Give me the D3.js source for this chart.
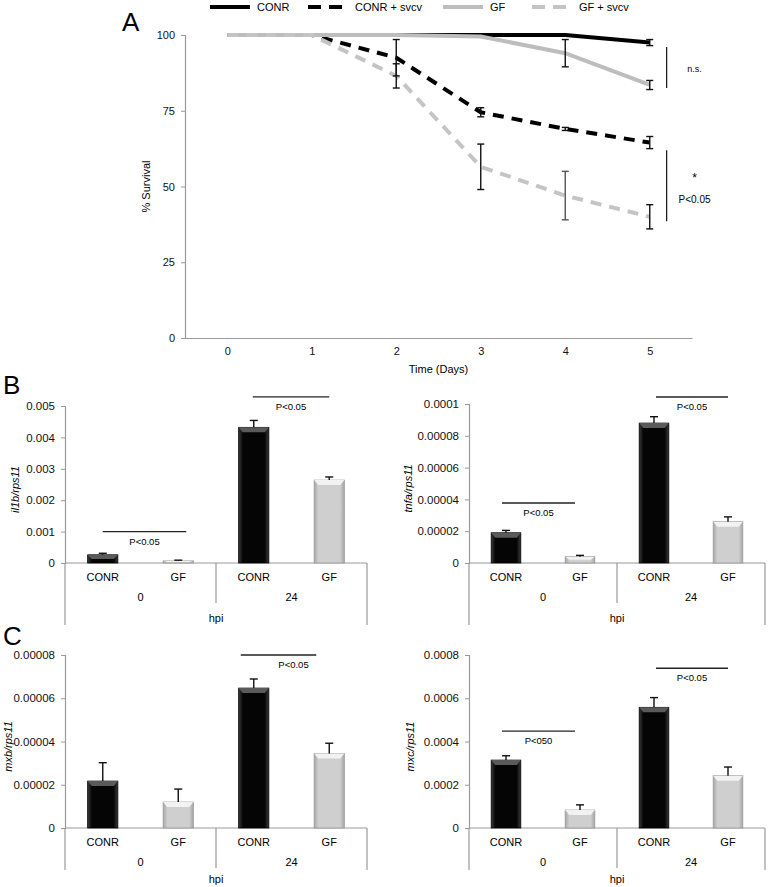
<!DOCTYPE html>
<html>
<head>
<meta charset="utf-8">
<script src="https://cdn.jsdelivr.net/npm/d3@7"></script>
<style>
  body { margin: 0; background: #fff; }
  svg { display: block; font-family: "Liberation Sans", Arial, Helvetica, sans-serif; }
</style>
</head>
<body>
<div id="chart"></div>
<script>
// ---- Panel A data: survival curves
const days = [0, 1, 2, 3, 4, 5];
const conr      = [100, 100, 100, 100, 100, 97.5];
const conrErr   = [0, 0, 0, 0, 0, 1];
const conrSvcv    = [100, 100, 92.5, 74.5, 69, 64.5];
const conrSvcvErr = [0, 0, 6, 1.5, 0.5, 2];
const gf      = [100, 100, 100, 99.5, 94, 83.5];
const gfErr   = [0, 0, 0, 0, 4.5, 1.5];
const gfSvcv    = [100, 100, 86.5, 56.5, 47, 40];
const gfSvcvErr = [0, 0, 4, 7.5, 8, 4];
const survivalTicks = [0, 25, 50, 75, 100];

// ---- Panels B / C data: qPCR bars
const hpi = ["0", "24"];
const groups = ["CONR", "GF"];
const il1b    = [0.00026, 0.00007, 0.00432, 0.00264];
const il1bErr = [0.00005, 0.00002, 0.00022, 0.0001];
const il1bTicks = [0, 0.001, 0.002, 0.003, 0.004, 0.005];
const tnfa    = [0.000019, 0.000004, 0.000088, 0.000026];
const tnfaErr = [0.0000015, 0.0000008, 0.000004, 0.000003];
const tnfaTicks = [0, 0.00002, 0.00004, 0.00006, 0.00008, 0.0001];
const mxb    = [0.0000217, 0.000012, 0.0000647, 0.0000345];
const mxbErr = [0.0000085, 0.000006, 0.0000042, 0.0000047];
const mxbTicks = [0, 0.00002, 0.00004, 0.00006, 0.00008];
const mxc    = [0.000314, 0.000083, 0.000558, 0.000242];
const mxcErr = [0.00002, 0.000024, 0.000045, 0.00004];
const mxcTicks = [0, 0.0002, 0.0004, 0.0006, 0.0008];

const width = 768, height = 887;
const axisGray = "#999";

const svg = d3.select("#chart").append("svg")
    .attr("width", width)
    .attr("height", height);

// gradients for the bevelled Excel-like bars
const defs = svg.append("defs");
function hGrad(id, edge, mid) {
  const g = defs.append("linearGradient").attr("id", id)
      .attr("x1", "0%").attr("x2", "100%").attr("y1", "0%").attr("y2", "0%");
  g.append("stop").attr("offset", "0%").attr("stop-color", edge);
  g.append("stop").attr("offset", "14%").attr("stop-color", mid);
  g.append("stop").attr("offset", "86%").attr("stop-color", mid);
  g.append("stop").attr("offset", "100%").attr("stop-color", edge);
}
hGrad("gBlack", "#3c3c3c", "#050505");
hGrad("gGray", "#a6a6a6", "#cfcfcf");

// ================= Panel A =================
const x = d3.scaleLinear().domain([-0.5, 5.5]).range([185, 692]);
const y = d3.scaleLinear().domain([0, 100]).range([338, 35]);

svg.append("text").attr("x", 122).attr("y", 31)
    .attr("font-size", 26).text("A");

const yAxisA = svg.append("g").attr("transform", "translate(185,0)")
    .call(d3.axisLeft(y).tickValues(survivalTicks).tickSize(4).tickPadding(6));
yAxisA.select(".domain").attr("stroke", axisGray).attr("stroke-width", 1.2);
yAxisA.selectAll(".tick line").attr("stroke", axisGray);
yAxisA.selectAll(".tick text").attr("font-size", 11).attr("fill", "#111");

const xAxisA = svg.append("g").attr("transform", "translate(0,338)")
    .call(d3.axisBottom(x).tickValues(days).tickFormat(d3.format("d")).tickSize(0).tickPadding(9));
xAxisA.select(".domain").attr("stroke", axisGray).attr("stroke-width", 1.2);
xAxisA.selectAll(".tick text").attr("font-size", 11).attr("fill", "#111");

svg.append("text").attr("x", x(2.5)).attr("y", 373)
    .attr("text-anchor", "middle").attr("font-size", 11).text("Time (Days)");
svg.append("text")
    .attr("transform", `translate(150,${y(50)}) rotate(-90)`)
    .attr("text-anchor", "middle").attr("font-size", 11).text("% Survival");

const series = [
  {name: "CONR", values: conr, err: conrErr, color: "#000", dash: null},
  {name: "CONR + svcv", values: conrSvcv, err: conrSvcvErr, color: "#000", dash: "11,8"},
  {name: "GF", values: gf, err: gfErr, color: "#bdbdbd", dash: null},
  {name: "GF + svcv", values: gfSvcv, err: gfSvcvErr, color: "#c4c4c4", dash: "11,8"}
];

const line = d3.line().x((d, i) => x(days[i])).y(d => y(d));

svg.append("g").selectAll("path")
  .data(series)
  .join("path")
    .attr("d", d => line(d.values))
    .attr("fill", "none")
    .attr("stroke", d => d.color)
    .attr("stroke-width", 4)
    .attr("stroke-dasharray", d => d.dash);

// error bars
const errs = [];
series.forEach(s => s.values.forEach((v, i) => {
  if (s.err[i] > 0) errs.push({day: days[i], v, e: s.err[i], gray: s.name === "GF + svcv" && days[i] === 4});
}));
const eg = svg.append("g").attr("stroke-width", 1.4);
errs.forEach(d => {
  const c = d.gray ? "#555" : "#111";
  const cx = x(d.day);
  eg.append("line").attr("x1", cx).attr("x2", cx)
      .attr("y1", y(d.v + d.e)).attr("y2", y(d.v - d.e)).attr("stroke", c);
  [d.v + d.e, d.v - d.e].forEach(t => eg.append("line")
      .attr("x1", cx - 3.5).attr("x2", cx + 3.5)
      .attr("y1", y(t)).attr("y2", y(t)).attr("stroke", c));
});

// significance brackets on panel A
const sigA = [
  {top: 96, bottom: 82.5, labels: [{t: "n.s.", dy: 0, size: 9}]},
  {top: 62, bottom: 38.5, labels: [{t: "*", dy: -8, size: 12}, {t: "P<0.05", dy: 13, size: 10}]}
];
sigA.forEach(s => {
  svg.append("line").attr("x1", x(5.2)).attr("x2", x(5.2))
      .attr("y1", y(s.top)).attr("y2", y(s.bottom))
      .attr("stroke", "#111").attr("stroke-width", 1.2);
  const mid = (y(s.top) + y(s.bottom)) / 2;
  s.labels.forEach(l => svg.append("text")
      .attr("x", x(5.53)).attr("y", mid + l.dy + 4)
      .attr("text-anchor", "middle").attr("font-size", l.size).text(l.t));
});

// legend
const legendX = [210, 308, 443, 532];
const leg = svg.append("g");
series.forEach((s, i) => {
  leg.append("line").attr("x1", legendX[i]).attr("x2", legendX[i] + 40)
      .attr("y1", 7).attr("y2", 7)
      .attr("stroke", s.color).attr("stroke-width", 4)
      .attr("stroke-dasharray", s.dash ? "13,8" : null);
  leg.append("text").attr("x", legendX[i] + 47).attr("y", 11)
      .attr("font-size", 11).text(s.name);
});

// ================= Panels B / C =================
function barChart({left, right, zero, top, values, err, ticks, label, titleX, outerLen, hpiDy, brackets}) {
  const cats = hpi.flatMap(h => groups.map(g => h + "|" + g));
  const xb = d3.scaleBand().domain(cats).range([left, right]).paddingInner(0.6).paddingOuter(0.3);
  const yb = d3.scaleLinear().domain([0, ticks[ticks.length - 1]]).range([zero, top]);
  const g = svg.append("g");

  const ax = g.append("g").attr("transform", `translate(${left},0)`)
      .call(d3.axisLeft(yb).tickValues(ticks).tickSize(4).tickPadding(6)
        .tickFormat(d => d === 0 ? "0" : String(d)));
  ax.select(".domain").attr("stroke", axisGray).attr("stroke-width", 1.2);
  ax.selectAll(".tick line").attr("stroke", axisGray);
  ax.selectAll(".tick text").attr("font-size", 11.5).attr("fill", "#111");

  // category axis with the two-level hpi grouping
  g.append("line").attr("x1", left).attr("x2", right).attr("y1", zero).attr("y2", zero)
      .attr("stroke", axisGray).attr("stroke-width", 1.2);
  const mid = (left + right) / 2;
  [[left, outerLen], [mid, 40], [right, outerLen]].forEach(([lx, len]) =>
    g.append("line").attr("x1", lx).attr("x2", lx).attr("y1", zero).attr("y2", zero + len)
      .attr("stroke", axisGray).attr("stroke-width", 1.2));

  g.selectAll(".cat").data(cats).join("text")
      .attr("x", d => xb(d) + xb.bandwidth() / 2).attr("y", zero + 18)
      .attr("text-anchor", "middle").attr("font-size", 11).text(d => d.split("|")[1]);
  hpi.forEach((h, i) => g.append("text")
      .attr("x", left + (right - left) * (i * 2 + 1) / 4).attr("y", zero + 38)
      .attr("text-anchor", "middle").attr("font-size", 11).text(h));
  g.append("text").attr("x", mid).attr("y", zero + hpiDy)
      .attr("text-anchor", "middle").attr("font-size", 11).text("hpi");

  // bars
  cats.forEach((c, i) => {
    const isCtl = c.endsWith("CONR");
    const bx = xb(c), bw = xb.bandwidth(), by = yb(values[i]);
    g.append("rect").attr("x", bx).attr("y", by).attr("width", bw).attr("height", zero - by)
        .attr("fill", isCtl ? "url(#gBlack)" : "url(#gGray)")
        .attr("stroke", isCtl ? "#000" : "#9a9a9a").attr("stroke-width", 0.8);
    const bev = Math.min(5, (zero - by) / 2);
    g.append("path")
        .attr("d", `M${bx},${by}L${bx + bw},${by}L${bx + bw - 4},${by + bev}L${bx + 4},${by + bev}Z`)
        .attr("fill", isCtl ? "#5a5a5a" : "#f2f2f2");
    // upward error whisker
    const ey = yb(values[i] + err[i]);
    g.append("line").attr("x1", bx + bw / 2).attr("x2", bx + bw / 2).attr("y1", by).attr("y2", ey)
        .attr("stroke", "#111").attr("stroke-width", 1.4);
    g.append("line").attr("x1", bx + bw / 2 - 4).attr("x2", bx + bw / 2 + 4).attr("y1", ey).attr("y2", ey)
        .attr("stroke", "#111").attr("stroke-width", 1.4);
  });

  // significance bars
  brackets.forEach(b => {
    const c0 = cats[b.from], c1 = cats[b.to];
    const x0 = xb(c0) + xb.bandwidth() / 2 + b.off0, x1 = xb(c1) + xb.bandwidth() / 2 + b.off1;
    const ly = yb(b.y);
    g.append("line").attr("x1", x0).attr("x2", x1).attr("y1", ly).attr("y2", ly)
        .attr("stroke", "#222").attr("stroke-width", 1.4);
    g.append("text").attr("x", (x0 + x1) / 2 + b.tdx).attr("y", ly + 13)
        .attr("text-anchor", "middle").attr("font-size", 9.5).text(b.text);
  });

  g.append("text")
      .attr("transform", `translate(${titleX},${(zero + top) / 2 + 5}) rotate(-90)`)
      .attr("text-anchor", "middle").attr("font-size", 11).attr("font-style", "italic").text(label);
}

svg.append("text").attr("x", 3).attr("y", 394).attr("font-size", 26).text("B");
svg.append("text").attr("x", 3).attr("y", 645).attr("font-size", 26).text("C");

barChart({left: 65, right: 367, zero: 563, top: 406, values: il1b, err: il1bErr, ticks: il1bTicks,
  label: "il1b/rps11", titleX: 19, outerLen: 62, hpiDy: 59,
  brackets: [{from: 0, to: 1, y: 0.001, off0: 0, off1: 8, tdx: 0, text: "P<0.05"},
             {from: 2, to: 3, y: 0.00529, off0: -1, off1: 0, tdx: 0, text: "P<0.05"}]});
barChart({left: 469, right: 765, zero: 563, top: 404, values: tnfa, err: tnfaErr, ticks: tnfaTicks,
  label: "tnfa/rps11", titleX: 412, outerLen: 62, hpiDy: 59,
  brackets: [{from: 0, to: 1, y: 0.0000377, off0: -4, off1: -5, tdx: 0, text: "P<0.05"},
             {from: 2, to: 3, y: 0.0001044, off0: 2, off1: 0, tdx: 0, text: "P<0.05"}]});
barChart({left: 65, right: 367, zero: 828, top: 655, values: mxb, err: mxbErr, ticks: mxbTicks,
  label: "mxb/rps11", titleX: 12, outerLen: 42, hpiDy: 55,
  brackets: [{from: 2, to: 3, y: 0.00008, off0: -13, off1: -13, tdx: 15, text: "P<0.05"}]});
barChart({left: 469, right: 765, zero: 828, top: 655, values: mxc, err: mxcErr, ticks: mxcTicks,
  label: "mxc/rps11", titleX: 414, outerLen: 42, hpiDy: 55,
  brackets: [{from: 0, to: 1, y: 0.000448, off0: -4, off1: -5, tdx: 0, text: "P<050"},
             {from: 2, to: 3, y: 0.000739, off0: 2, off1: 0, tdx: 0, text: "P<0.05"}]});
</script>
</body>
</html>
